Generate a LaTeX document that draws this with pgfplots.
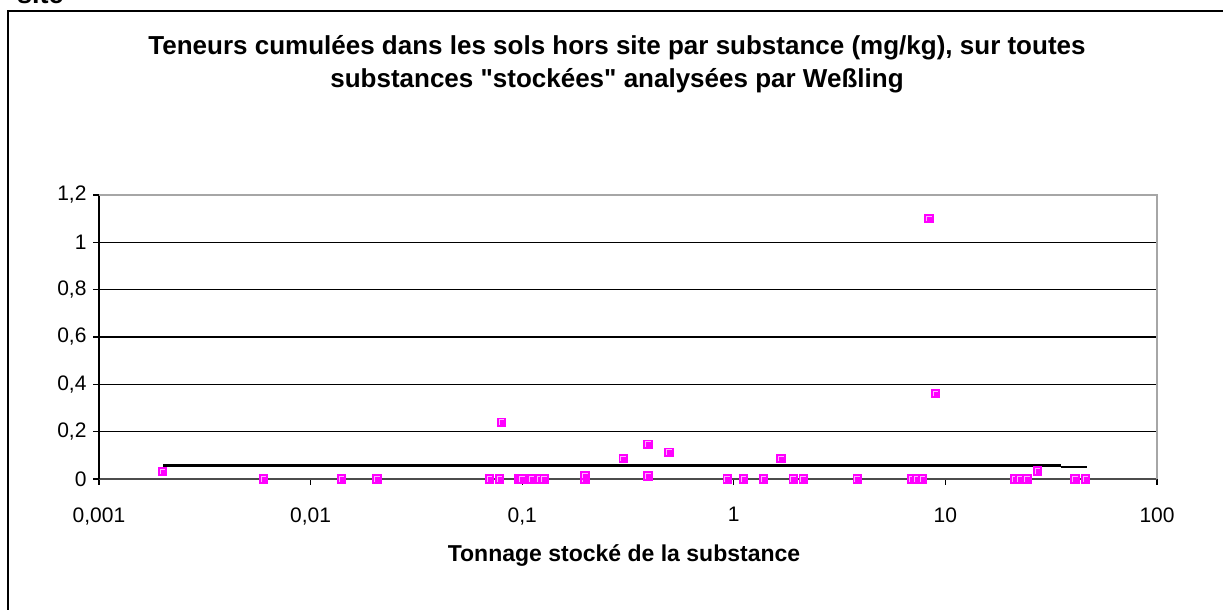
\documentclass[border=0pt]{standalone}
\usepackage{fontspec}
\setmainfont{Liberation Sans}
\usepackage{pgfplots}
\pgfplotsset{compat=1.18}
\definecolor{mag}{HTML}{FF00FF}
\pgfdeclareplotmark{xlsq}{%
  \pgfpathrectangle{\pgfpoint{-4.6pt}{-4.6pt}}{\pgfpoint{9.2pt}{9.2pt}}%
  \pgfsetfillcolor{mag}\pgfusepathqfill
  \pgfsetstrokecolor{white!70!mag}\pgfsetlinewidth{0.8pt}%
  \pgfpathmoveto{\pgfpoint{-2.4pt}{-2.6pt}}%
  \pgfpathlineto{\pgfpoint{-2.4pt}{2.4pt}}%
  \pgfpathlineto{\pgfpoint{2.6pt}{2.4pt}}%
  \pgfusepathqstroke}
\begin{document}
\begin{tikzpicture}[x=1pt,y=1pt]
\useasboundingbox (0,0) rectangle (1223,610);
% outer frame (left and top edges visible)
\draw[black, line width=2pt] (7.5,-5) -- (7.5,598.5) -- (1230,598.5);
\node[anchor=base west, font=\bfseries\fontsize{27}{32}\selectfont, inner sep=0] at (17,606) {site};
% title
\node[align=center, font=\bfseries\fontsize{26}{33}\selectfont] at (617,546) {Teneurs cumulées dans les sols hors site par substance (mg/kg), sur toutes\\substances \textquotedbl stockées\textquotedbl{} analysées par Weßling};
% x label
\node[font=\bfseries\fontsize{23}{27}\selectfont] at (624,54) {Tonnage stocké de la substance};
\begin{axis}[
  at={(99pt,131pt)}, anchor=south west,
  scale only axis, width=1058pt, height=284pt,
  xmode=log, xmin=0.001, xmax=100, ymin=0, ymax=1.2,
  xtick={0.001,0.01,0.1,1,10,100},
  xticklabels={{0,001},{0,01},{0,1},1,10,100},
  ytick={0,0.2,0.4,0.6,0.8,1,1.2},
  yticklabels={0,{0,2},{0,4},{0,6},{0,8},1,{1,2}},
  xminorticks=false, yminorticks=false,
  axis lines=left, axis line style={-},
  x axis line style={gray!60!black, line width=2pt},
  y axis line style={black, line width=1.4pt},
  tick align=outside, major tick length=6pt,
  tick style={black, line width=1.2pt},
  ymajorgrids, major grid style={black, line width=1.2pt},
  xticklabel style={font=\fontsize{21}{24}\selectfont, yshift=-19pt},
  yticklabel style={font=\fontsize{21}{24}\selectfont, xshift=-3pt},
  clip=false,
]
\draw[gray!70, line width=1.8pt] (rel axis cs:0,1) -- (rel axis cs:1,1) -- (rel axis cs:1,0);
\addplot[black, line width=3pt, no marks] coordinates {(0.00201,0.055) (35.2,0.055)};
\addplot[black, line width=1.2pt, no marks] coordinates {(35.2,0.051) (46.7,0.051)};
\addplot[only marks, mark=xlsq] coordinates {
(0.002,0.03) (0.006,0) (0.014,0) (0.0206,0) (0.07,0) (0.078,0) (0.08,0.24)
(0.096,0) (0.098,0) (0.1,0) (0.111,0) (0.121,0) (0.127,0) (0.198,0) (0.198,0.015)
(0.3,0.087) (0.393,0.147) (0.393,0.013) (0.494,0.113) (0.93,0) (1.11,0) (1.38,0)
(1.67,0.087) (1.91,0) (2.13,0) (3.83,0) (6.9,0) (7.3,0) (7.8,0) (8.37,1.1)
(8.96,0.36) (21.3,0) (22.5,0) (24.3,0) (27.2,0.034) (41,0) (46,0)
};
\end{axis}
\end{tikzpicture}
\end{document}
